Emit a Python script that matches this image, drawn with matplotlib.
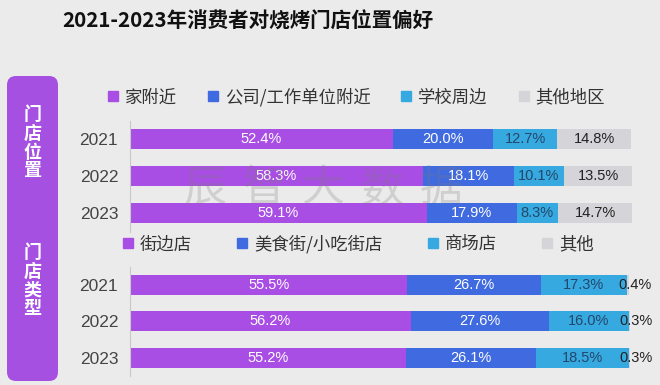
import matplotlib
matplotlib.use("Agg")
import matplotlib.pyplot as plt
from matplotlib.lines import Line2D
from matplotlib.patches import FancyBboxPatch
import matplotlib.transforms as mtransforms

plt.rcParams['font.family'] = ['Liberation Sans', 'Noto Sans CJK SC', 'DejaVu Sans']

# ---------------- data ----------------
title = "2021-2023年消费者对烧烤门店位置偏好"
years = ["2021", "2022", "2023"]

loc_labels = ["家附近", "公司/工作单位附近", "学校周边", "其他地区"]
loc_home = [52.4, 58.3, 59.1]
loc_office = [20.0, 18.1, 17.9]
loc_school = [12.7, 10.1, 8.3]
loc_other = [14.8, 13.5, 14.7]

type_labels = ["街边店", "美食街/小吃街店", "商场店", "其他"]
type_street = [55.5, 56.2, 55.2]
type_food = [26.7, 27.6, 26.1]
type_mall = [17.3, 16.0, 18.5]
type_other = [0.4, 0.3, 0.3]

side_top = "门店位置"
side_bottom = "门店类型"
watermark = "辰智大数据"

# ---------------- style ----------------
BG = '#ebebeb'
PURPLE = '#a94ee4'
BLUE = '#3f6ae0'
LBLUE = '#36a9e0'
GRAY = '#d5d5d9'
colors = [PURPLE, BLUE, LBLUE, GRAY]
text_colors = ['white', 'white', '#24476b', '#222222']

W, H = 660, 385
fig = plt.figure(figsize=(W / 100, H / 100), dpi=100, facecolor=BG)


def frac(x0, y0, x1, y1):
    return [x0 / W, 1 - y1 / H, (x1 - x0) / W, (y1 - y0) / H]


# background pixel axes for decorations
bg = fig.add_axes([0, 0, 1, 1], zorder=-1)
bg.set_xlim(0, W)
bg.set_ylim(H, 0)
bg.axis('off')
bg.add_patch(FancyBboxPatch((7, 76), 51, 305, boxstyle="round,pad=0,rounding_size=9",
                            facecolor='#a650e2', edgecolor='none'))
for i, ch in enumerate(side_top):
    bg.text(32.5, 114.5 + i * 18.8, ch, ha='center', va='center', color='white',
            fontsize=13, fontweight='bold', family=['Noto Sans CJK SC'])
for i, ch in enumerate(side_bottom):
    bg.text(32.5, 252 + i * 18.9, ch, ha='center', va='center', color='white',
            fontsize=13, fontweight='bold', family=['Noto Sans CJK SC'])

fig.text(62 / W, 1 - 21 / H, title, ha='left', va='center', fontsize=14.8,
         fontweight='bold', color='#111111', family=['Noto Sans CJK SC'])


def draw_panel(rect, series, labels, legend_x, legend_y, colspace, small_offset=False):
    ax = fig.add_axes(rect)
    ax.set_facecolor('none')
    y = list(range(len(years)))
    left = [0.0] * len(years)
    for k, vals in enumerate(series):
        bars = ax.barh(y, vals, left=left, height=0.55, color=colors[k], edgecolor='none')
        for j, (b, v) in enumerate(zip(bars, vals)):
            cx = b.get_x() + b.get_width() / 2
            cy = b.get_y() + b.get_height() / 2
            tr = ax.transData
            if small_offset and k == 3:
                tr = ax.transData + mtransforms.ScaledTranslation(7 / 100, 0, fig.dpi_scale_trans)
            ax.text(cx, cy, f"{v:.1f}%", ha='center', va='center', fontsize=10.5,
                    color=text_colors[k], transform=tr)
        left = [l + v for l, v in zip(left, vals)]
    ax.set_xlim(0, 100)
    ax.set_ylim(len(years) - 0.5, -0.5)
    ax.set_yticks(y)
    ax.set_yticklabels(years, fontsize=12.5, color='#444444')
    ax.tick_params(axis='y', length=0, pad=8.5)
    ax.set_xticks([])
    for s in ['top', 'right', 'bottom']:
        ax.spines[s].set_visible(False)
    ax.spines['left'].set_color('#c8c8c8')
    ax.spines['left'].set_linewidth(0.8)
    handles = [Line2D([], [], marker='s', linestyle='', color=c, markersize=7.3) for c in colors]
    fig.legend(handles, labels, loc='center left', bbox_to_anchor=(legend_x / W, 1 - legend_y / H),
               ncol=4, frameon=False, handlelength=0.7, handletextpad=0.33,
               columnspacing=colspace, borderpad=0, borderaxespad=0,
               labelcolor='#333333', prop={'family': ['Noto Sans CJK SC'], 'size': 12.5})
    return ax


draw_panel(frac(130, 120.5, 632, 231.5), [loc_home, loc_office, loc_school, loc_other],
           loc_labels, 107, 97, 1.72)
draw_panel(frac(130, 266.7, 629.5, 376), [type_street, type_food, type_mall, type_other],
           type_labels, 122, 244, 2.55, small_offset=True)

# watermark on top
for i, ch in enumerate(watermark):
    fig.text((205 + i * 59) / W, 1 - 189 / H, ch, ha='center', va='center', fontsize=31,
             color='#7a7a7a', alpha=0.24, family=['Noto Sans CJK SC'], zorder=10)

fig.savefig('out.png', dpi=100, facecolor=BG)
